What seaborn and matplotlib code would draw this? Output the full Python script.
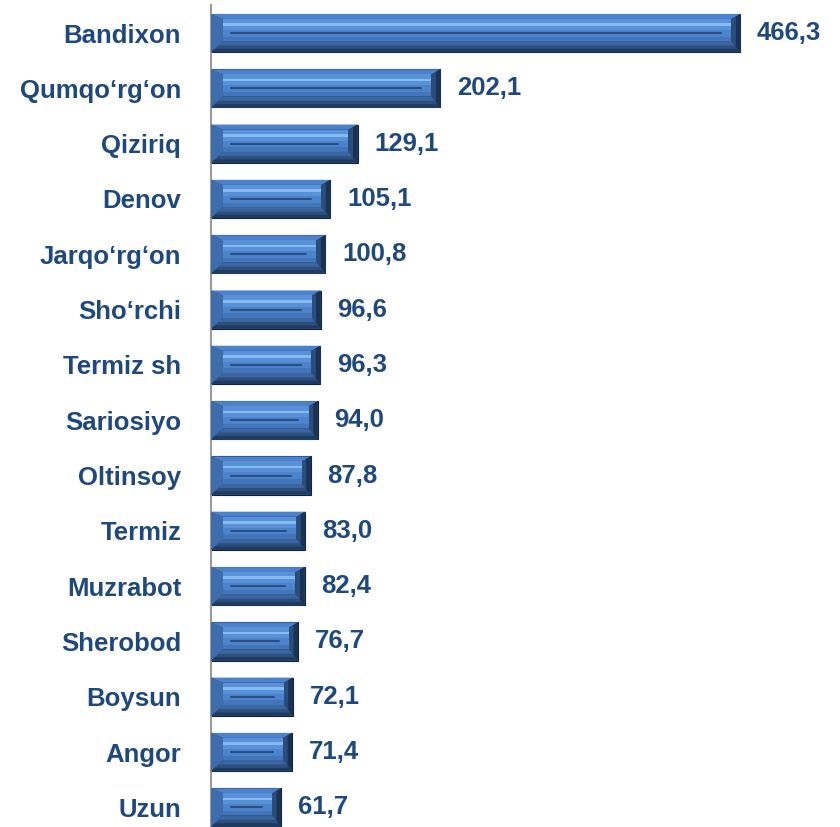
import matplotlib.pyplot as plt
import pandas as pd
import seaborn as sns

districts = ['Bandixon', 'Qumqo\u2018rg\u2018on', 'Qiziriq', 'Denov', 'Jarqo\u2018rg\u2018on',
             'Sho\u2018rchi', 'Termiz sh', 'Sariosiyo', 'Oltinsoy', 'Termiz',
             'Muzrabot', 'Sherobod', 'Boysun', 'Angor', 'Uzun']
values = [466.3, 202.1, 129.1, 105.1, 100.8, 96.6, 96.3, 94.0, 87.8, 83.0,
          82.4, 76.7, 72.1, 71.4, 61.7]
value_labels = [f'{v:.1f}'.replace('.', ',') for v in values]

sns.set_style('white')
plt.rcParams['font.family'] = ['Liberation Sans', 'DejaVu Sans']
text_color = '#1F497D'

df = pd.DataFrame({'district': districts, 'value': values})

fig = plt.figure(figsize=(8.4, 8.27), dpi=100)
ax = fig.add_axes([211 / 840, -8 / 827, 629 / 840, 829.6 / 827])

sns.barplot(data=df, y='district', x='value', orient='h', width=0.69,
            color='#2A4870', saturation=1, edgecolor='#10243F', linewidth=0.8, ax=ax)


def quad(xs, ys, c, z=3):
    ax.fill(xs, ys, color=c, lw=0, zorder=z)


# bevel look, drawn over each bar from its own geometry
bl, br, bt, bb = 10.5, 8.0, 0.09, 0.2
for p in list(ax.patches):
    x0, y0 = p.get_x(), p.get_y()
    x1, y1 = x0 + p.get_width(), y0 + p.get_height()
    fy0, fy1 = y0 + bt, y1 - bb
    fh = fy1 - fy0
    # top, bottom, left, right faces
    quad([x0, x1, x1 - br, x0 + bl], [y0, y0, fy0, fy0], '#4C82CB')
    quad([x0, x1, x1 - br, x0 + bl], [y1, y1, fy1, fy1], '#3A65A0')
    quad([x0, x1, x1 - br * 0.6, x0 + bl * 0.6], [y1, y1, y1 - bb * 0.6, y1 - bb * 0.6], '#2D4F7E')
    quad([x0, x1, x1 - br * 0.3, x0 + bl * 0.3], [y1, y1, y1 - bb * 0.3, y1 - bb * 0.3], '#203B60')
    quad([x0, x0 + bl, x0 + bl, x0], [y0, fy0, fy1, y1], '#3D6DAD')
    quad([x1, x1 - br, x1 - br, x1], [y0, fy0, fy1, y1], '#2B4D7C')
    quad([x1, x1 - br * 0.5, x1 - br * 0.5, x1], [y0, y0 + bt * 0.5, y1 - bb * 0.5, y1], '#1B3252')
    # inner face bands
    quad([x0 + bl, x1 - br, x1 - br, x0 + bl], [fy0, fy0, fy1, fy1], '#4C84CC')
    quad([x0 + bl, x1 - br, x1 - br, x0 + bl], [fy0, fy0, fy0 + fh * 0.5, fy0 + fh * 0.5], '#5891D8')
    quad([x0 + bl, x1 - br, x1 - br, x0 + bl], [fy0 + fh * 0.2, fy0 + fh * 0.2, fy0 + fh * 0.32, fy0 + fh * 0.32],
         '#86BBF2')
    quad([x0 + bl, x1 - br, x1 - br, x0 + bl], [fy0 + fh * 0.8, fy0 + fh * 0.8, fy1, fy1], '#4275B9')
    ax.plot([x0 + bl + 7, x1 - br - 9], [fy0 + fh * 0.64] * 2, color='#2B4F82', lw=1.5, zorder=4)

for i, (v, lab) in enumerate(zip(values, value_labels)):
    ax.annotate(lab, xy=(v, i), xytext=(12, 0), textcoords='offset points',
                ha='left', va='center', fontsize=18.5, fontweight='bold', color=text_color)

ax.set_xlim(0, 554)
ax.set_ylim(14.5, -0.5)
ax.set_xlabel('')
ax.set_ylabel('')
ax.set_xticks([])
ax.tick_params(axis='y', length=0, pad=21.5, labelsize=18.5, labelcolor=text_color)
for t in ax.get_yticklabels():
    t.set_fontweight('bold')
for s in ['top', 'right', 'bottom']:
    ax.spines[s].set_visible(False)
ax.spines['left'].set_color('#9A9A9A')
ax.spines['left'].set_linewidth(1.5)

fig.savefig('out.png', dpi=100)
